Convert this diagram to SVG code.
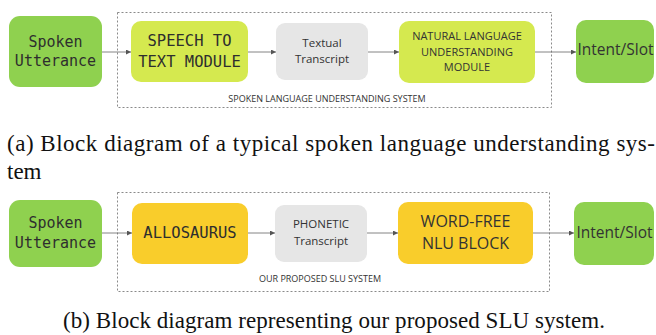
<svg xmlns="http://www.w3.org/2000/svg" width="656" height="335" viewBox="0 0 656 335">
<defs>
<style>
.bg{fill:#ffffff}
.green{fill:#8fd14f}
.lime{fill:#d5e94f}
.gray{fill:#e6e6e6}
.yellow{fill:#f9cd2b}
.frame{fill:none;stroke:#8a8a8a;stroke-width:1;stroke-dasharray:2 2}
.mono{font-family:"DejaVu Sans Mono","Liberation Mono",monospace;fill:#2e2e2e;text-anchor:middle}
.sans{font-family:"Open Sans",Inter,"Liberation Sans",sans-serif;fill:#333333;text-anchor:middle}
.cap{font-family:"Liberation Serif","Times New Roman",serif;fill:#111111;font-size:23px}
.conn{stroke:#666666;stroke-width:0.8;fill:none;marker-end:url(#ah)}
</style>
<marker id="ah" viewBox="0 0 6 6" refX="6" refY="3" markerWidth="5" markerHeight="5" markerUnits="userSpaceOnUse" orient="auto">
<path d="M0,0 L6,3 L0,6 z" fill="#555555"/>
</marker>
</defs>
<rect class="bg" x="0" y="0" width="656" height="335"/>

<g id="frame-a">
<rect class="frame" x="117.5" y="12.5" width="434" height="95"/>
<text class="sans" x="327" y="101.5" font-size="9">SPOKEN LANGUAGE UNDERSTANDING SYSTEM</text>
</g>
<g id="frame-b">
<rect class="frame" x="117.5" y="192.5" width="432" height="99"/>
<text class="sans" x="320" y="282" font-size="9">OUR PROPOSED SLU SYSTEM</text>
</g>

<g id="connectors">
<line class="conn" x1="102" y1="52" x2="131" y2="52"/>
<line class="conn" x1="248" y1="52" x2="276" y2="52"/>
<line class="conn" x1="368" y1="52" x2="399" y2="52"/>
<line class="conn" x1="535" y1="52" x2="576" y2="52"/>
<line class="conn" x1="102" y1="233" x2="132" y2="233"/>
<line class="conn" x1="248" y1="233" x2="275" y2="233"/>
<line class="conn" x1="367" y1="233" x2="398" y2="233"/>
<line class="conn" x1="533" y1="233" x2="574" y2="233"/>
</g>

<g id="spoken-a">
<rect class="green" x="9" y="16" width="93" height="71" rx="11"/>
<text class="mono" x="55.5" y="47" font-size="15">Spoken</text>
<text class="mono" x="55.5" y="66" font-size="15">Utterance</text>
</g>
<g id="stt">
<rect class="lime" x="131" y="21" width="117" height="61" rx="10"/>
<text class="mono" x="189.5" y="46" font-size="15.5">SPEECH TO</text>
<text class="mono" x="189.5" y="67" font-size="15.5">TEXT MODULE</text>
</g>
<g id="textual">
<rect class="gray" x="276" y="23" width="92" height="57" rx="9"/>
<text class="sans" x="322" y="46.5" font-size="11.5">Textual</text>
<text class="sans" x="322" y="62.5" font-size="11.5">Transcript</text>
</g>
<g id="nlu">
<rect class="lime" x="399" y="21" width="136" height="62" rx="10"/>
<text class="sans" x="467" y="40" font-size="11">NATURAL LANGUAGE</text>
<text class="sans" x="467" y="55.5" font-size="11">UNDERSTANDING</text>
<text class="sans" x="467" y="71" font-size="11">MODULE</text>
</g>
<g id="intent-a">
<rect class="green" x="576" y="20" width="78" height="63" rx="10"/>
<text class="sans" x="615.5" y="55" font-size="15.5">Intent/Slot</text>
</g>

<g id="spoken-b">
<rect class="green" x="9" y="200" width="93" height="67" rx="11"/>
<text class="mono" x="55.5" y="228" font-size="15">Spoken</text>
<text class="mono" x="55.5" y="248" font-size="15">Utterance</text>
</g>
<g id="allosaurus">
<rect class="yellow" x="132" y="203" width="116" height="61" rx="10"/>
<text class="mono" x="190" y="238" font-size="15.5">ALLOSAURUS</text>
</g>
<g id="phonetic">
<rect class="gray" x="275" y="205" width="92" height="57" rx="9"/>
<text class="sans" x="321" y="228" font-size="11.5">PHONETIC</text>
<text class="sans" x="321" y="245" font-size="11.5">Transcript</text>
</g>
<g id="wordfree">
<rect class="yellow" x="398" y="202" width="135" height="62" rx="10"/>
<text class="sans" x="465.5" y="227" font-size="16">WORD-FREE</text>
<text class="sans" x="465.5" y="249" font-size="16">NLU BLOCK</text>
</g>
<g id="intent-b">
<rect class="green" x="574" y="202" width="80" height="63" rx="10"/>
<text class="sans" x="614.5" y="238" font-size="15.5">Intent/Slot</text>
</g>

<g id="captions">
<text class="cap" x="7" y="151" textLength="648" lengthAdjust="spacing">(a) Block diagram of a typical spoken language understanding sys-</text>
<text class="cap" x="7" y="179">tem</text>
<text class="cap" x="63" y="328" textLength="542" lengthAdjust="spacing">(b) Block diagram representing our proposed SLU system.</text>
</g>
</svg>
